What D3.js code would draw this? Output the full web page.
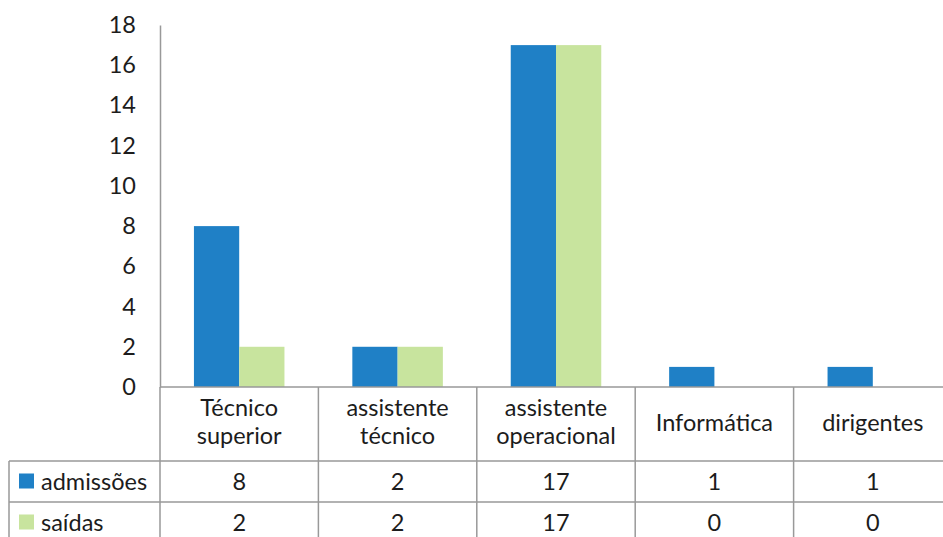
<!DOCTYPE html>
<html>
<head>
<meta charset="utf-8">
<script src="https://cdnjs.cloudflare.com/ajax/libs/d3/7.8.5/d3.min.js"></script>
<style>
body { margin: 0; background: #fff; }
svg { display: block; font-family: Lato, "Open Sans", sans-serif; }
</style>
</head>
<body>
<svg id="chart" width="943" height="537"></svg>
<script>
// data
const categories = [['Técnico', 'superior'], ['assistente', 'técnico'], ['assistente', 'operacional'], ['Informática'], ['dirigentes']];
const seriesNames = ['admissões', 'saídas'];
const admissoes = [8, 2, 17, 1, 1];
const saidas = [2, 2, 17, 0, 0];
const yTicks = [0, 2, 4, 6, 8, 10, 12, 14, 16, 18];

const colors = { 'admissões': '#1f80c6', 'saídas': '#c8e49e' };
const values = { 'admissões': admissoes, 'saídas': saidas };

const W = 943, H = 537;
const plotLeft = 160, plotRight = 952, plotTop = 25, base = 387;
const headerBottom = 461, row1Bottom = 502, row2Bottom = 543;
const tableLeft = 9;
const textColor = '#1c1c1c';
const gridColor = '#999';
const fontSize = '23.5px';

const svg = d3.select('#chart');

const keys = categories.map((c, i) => 'c' + i);
const x0 = d3.scaleBand().domain(keys).range([plotLeft, plotRight]);
const bw = x0.bandwidth();
const gap = bw * 0.75 / 3.5; // excel gap width 150%
const x1 = d3.scaleBand().domain(seriesNames).range([gap, bw - gap]);
const y = d3.scaleLinear().domain([0, 18]).range([base, plotTop]);

// bars
const groups = svg.append('g').selectAll('g')
    .data(keys)
    .join('g')
    .attr('transform', d => `translate(${x0(d)},0)`);

groups.selectAll('rect')
    .data((d, i) => seriesNames.map(s => ({ s, v: values[s][i] })))
    .join('rect')
    .attr('x', d => x1(d.s))
    .attr('width', x1.bandwidth())
    .attr('y', d => y(d.v))
    .attr('height', d => base - y(d.v))
    .attr('fill', d => colors[d.s]);

// y axis
const yAxis = svg.append('g')
    .attr('transform', `translate(${plotLeft},0)`)
    .call(d3.axisLeft(y).tickValues(yTicks).tickSize(0).tickPadding(24));
yAxis.select('.domain').attr('stroke', '#999').attr('stroke-width', 1.5);
yAxis.selectAll('text')
    .attr('fill', textColor)
    .style('font-size', fontSize)
    .style('font-family', 'Lato, sans-serif');

// data table grid
const grid = svg.append('g').attr('stroke', gridColor).attr('stroke-width', 1.5).attr('fill', 'none');
grid.append('line').attr('x1', plotLeft).attr('x2', W).attr('y1', base).attr('y2', base);
grid.append('line').attr('x1', tableLeft).attr('x2', W).attr('y1', headerBottom).attr('y2', headerBottom);
grid.append('line').attr('x1', tableLeft).attr('x2', W).attr('y1', row1Bottom).attr('y2', row1Bottom);
grid.append('line').attr('x1', tableLeft).attr('x2', tableLeft).attr('y1', headerBottom).attr('y2', H);
grid.selectAll('line.sep')
    .data(keys.concat(['end']))
    .join('line')
    .attr('class', 'sep')
    .attr('x1', d => d === 'end' ? plotRight : x0(d))
    .attr('x2', d => d === 'end' ? plotRight : x0(d))
    .attr('y1', base)
    .attr('y2', H);

// header labels
const headMid = (base + headerBottom) / 2;
const header = svg.append('g')
    .attr('fill', textColor)
    .style('font-size', fontSize)
    .attr('text-anchor', 'middle');
header.selectAll('text')
    .data(categories)
    .join('text')
    .attr('x', (d, i) => x0(keys[i]) + bw / 2)
    .attr('y', d => headMid + 7 - (d.length - 1) * 15)
    .selectAll('tspan')
    .data(d => d)
    .join('tspan')
    .attr('x', function () { return this.parentNode.getAttribute('x'); })
    .attr('dy', (d, i) => i === 0 ? 0 : 28)
    .text(d => d);

// table rows
const rowMid = [(headerBottom + row1Bottom) / 2, (row1Bottom + row2Bottom) / 2];
seriesNames.forEach((s, r) => {
    const g = svg.append('g');
    g.append('rect')
        .attr('x', 19).attr('y', rowMid[r] - 8)
        .attr('width', 15).attr('height', 15)
        .attr('fill', colors[s]);
    g.append('text')
        .attr('x', 41).attr('y', rowMid[r] + 8)
        .attr('fill', textColor)
        .style('font-size', fontSize)
        .text(s);
    g.selectAll('text.val')
        .data(values[s])
        .join('text')
        .attr('class', 'val')
        .attr('x', (d, i) => x0(keys[i]) + bw / 2)
        .attr('y', rowMid[r] + 8)
        .attr('text-anchor', 'middle')
        .attr('fill', textColor)
        .style('font-size', fontSize)
        .text(d => d);
});
</script>
</body>
</html>
